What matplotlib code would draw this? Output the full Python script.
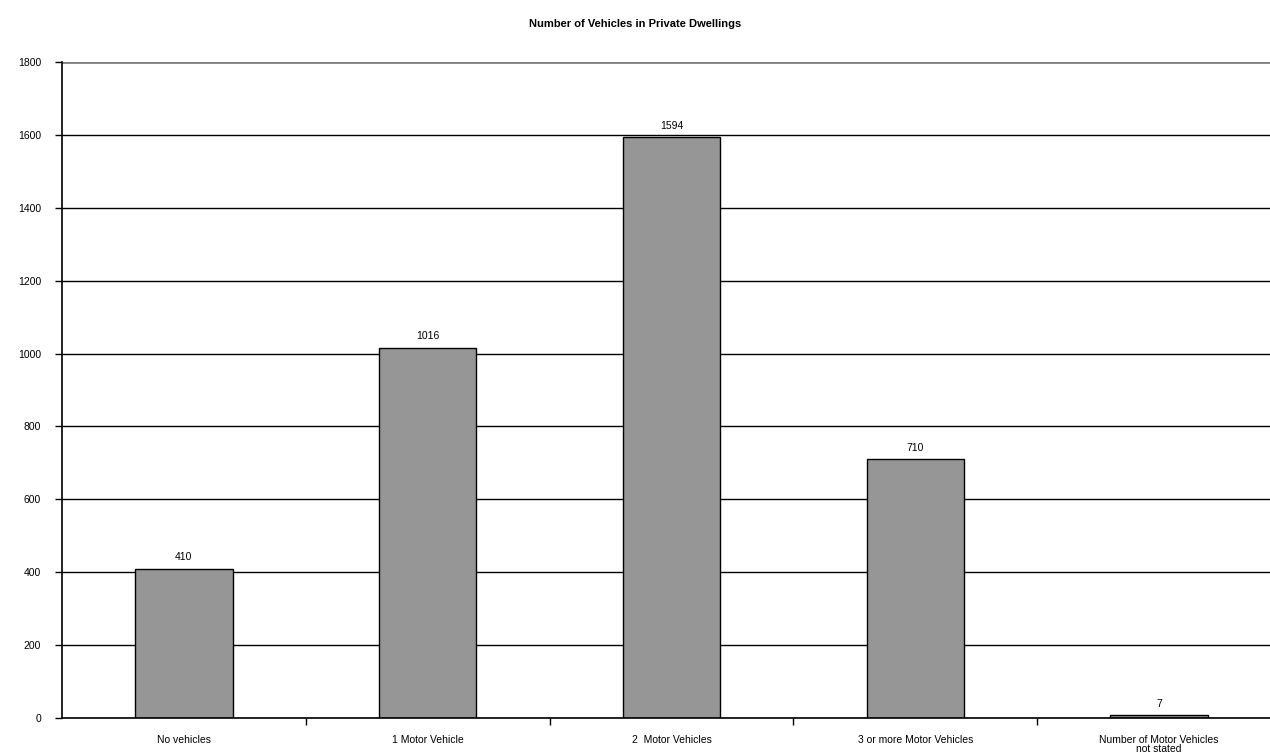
import matplotlib
matplotlib.use("Agg")
import matplotlib.pyplot as plt
import numpy as np

categories = ["No vehicles", "1 Motor Vehicle", "2  Motor Vehicles",
              "3 or more Motor Vehicles", "Number of Motor Vehicles\nnot stated"]
counts = [410, 1016, 1594, 710, 7]
y_ticks = [0, 200, 400, 600, 800, 1000, 1200, 1400, 1600, 1800]

plt.rcParams['font.family'] = ['Liberation Sans', 'DejaVu Sans']

fig = plt.figure(figsize=(12.7, 7.53), dpi=100)
# plot area runs a little past the right edge of the picture
ax = fig.add_axes([62/1270, 35/753, 1219/1270, 656/753])

x = np.arange(len(categories))
ax.bar(x, counts, width=0.4, color='#969696', edgecolor='black', linewidth=1, zorder=3)

for xi, v in zip(x, counts):
    ax.text(xi, v + 18, str(v), ha='center', va='bottom', fontsize=7.5)

ax.set_xlim(-0.5, len(categories) - 0.5)
ax.set_ylim(0, 1800)
ax.set_yticks(y_ticks)
ax.set_yticklabels([str(t) for t in y_ticks], fontsize=7.5)
ax.yaxis.grid(True, color='black', linewidth=1, zorder=0)
ax.get_ygridlines()[-1].set_color('#808080')
ax.get_ygridlines()[-1].set_linewidth(2)

# category labels in the middle, tick marks between categories
ax.set_xticks(x)
ax.set_xticklabels(categories, fontsize=7.5, linespacing=0.9)
ax.tick_params(axis='x', length=0, pad=12)
ax.set_xticks(np.arange(0.5, len(categories) - 1), minor=True)
ax.tick_params(axis='x', which='minor', length=5, width=1, direction='out', color='black')
ax.tick_params(axis='y', length=5, width=1, direction='out', color='black', pad=10)

for s in ['top', 'right']:
    ax.spines[s].set_visible(False)
for s in ['left', 'bottom']:
    ax.spines[s].set_color('black')
    ax.spines[s].set_linewidth(1.2)
    ax.spines[s].set_zorder(4)

fig.text(0.5, 1 - 24/753, "Number of Vehicles in Private Dwellings",
         ha='center', va='center', fontsize=8, fontweight='bold')

fig.savefig("out.png", dpi=100)
